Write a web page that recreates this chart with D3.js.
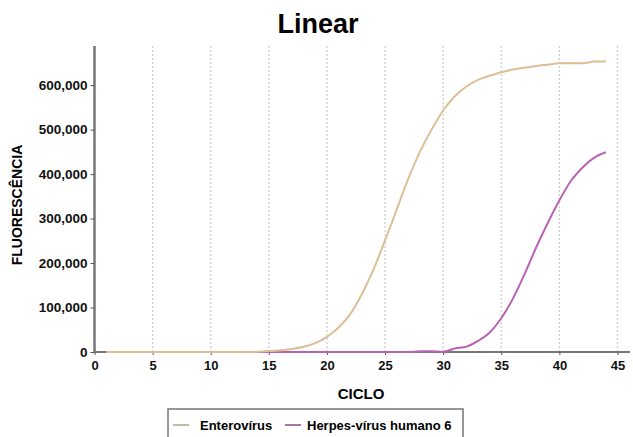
<!DOCTYPE html>
<html>
<head>
<meta charset="utf-8">
<script src="https://cdn.jsdelivr.net/npm/d3@7"></script>
<style>
  body { margin: 0; background: #fff; }
  svg text { font-family: "Liberation Sans", Arial, sans-serif; }
</style>
</head>
<body>
<div id="chart"></div>
<script>
// cycles 1..44
var cycles = d3.range(1, 45);
var enterovirus = [0, 0, 0, 0, 0, 0, 0, 0, 0, 0, 0, 0, 0, 500,
    2000, 4000, 7000, 12000, 20000, 34000, 55000, 85000, 130000, 185000,
    251000, 320000, 390000, 450000, 500000, 543000, 575000, 597000, 612000, 621000,
    629000, 635000, 639000, 643000, 646000, 649000, 649000, 649000, 653000, 653000];
var herpes = [0, 0, 0, 0, 0, 0, 0, 0, 0, 0, 0, 0, 0, 0,
    0, 0, 0, 0, 0, 0, 0, 0, 0, 0,
    0, 0, 0, 1500, 1500, 500, 8000, 12000, 25000, 44000,
    76000, 120000, 175000, 235000, 290000, 341000, 385000, 415000, 437000, 449000];
var seriesNames = ["Enterovírus", "Herpes-vírus humano 6"];
var seriesColors = ["#dcbf96", "#b863b3"];
var legendColors = ["#c7b9a3", "#a676a8"];
var xTicks = [0, 5, 10, 15, 20, 25, 30, 35, 40, 45];
var yTicks = [0, 100000, 200000, 300000, 400000, 500000, 600000];

var width = 633, height = 437;
var svg = d3.select("#chart").append("svg")
    .attr("width", width).attr("height", height);

var x = d3.scaleLinear().domain([0, 45]).range([94.5, 617.5]);
var y = d3.scaleLinear().domain([0, 688000]).range([352, 46]);

// title
svg.append("text")
    .attr("x", 318).attr("y", 33)
    .attr("text-anchor", "middle")
    .style("font-size", "27px").style("font-weight", "bold")
    .text("Linear");

// vertical dotted grid
svg.append("g").selectAll("line")
    .data(xTicks.slice(1)).enter().append("line")
    .attr("x1", d => x(d)).attr("x2", d => x(d))
    .attr("y1", 46).attr("y2", 352)
    .attr("stroke", "#cfcfcf")
    .attr("stroke-width", 1.3)
    .attr("stroke-dasharray", "2,2");

// lines
var line = d3.line()
    .x((d, i) => x(cycles[i]))
    .y(d => y(d))
    .curve(d3.curveMonotoneX);

// x axis
var xAxis = svg.append("g")
    .attr("transform", "translate(0,352)")
    .call(d3.axisBottom(x).tickValues(xTicks).tickSize(3).tickSizeOuter(0));
xAxis.select(".domain").attr("stroke", "#777").attr("stroke-width", 2)
    .attr("d", "M" + x(0) + ",0H630");
xAxis.selectAll(".tick line").attr("stroke", "#555");
xAxis.selectAll("text").attr("dy", "0.9em")
    .style("font-size", "13px").style("font-weight", "bold").attr("fill", "#111");

[herpes, enterovirus].forEach(function(data, k) {
    var idx = k === 0 ? 1 : 0;
    svg.append("path")
        .datum(data)
        .attr("fill", "none")
        .attr("stroke", seriesColors[idx])
        .attr("stroke-width", 2)
        .attr("d", line);
});

// y axis
var yAxis = svg.append("g")
    .attr("transform", "translate(94.5,0)")
    .call(d3.axisLeft(y).tickValues(yTicks).tickFormat(d3.format(",")).tickSize(4).tickSizeOuter(0));
yAxis.select(".domain").attr("stroke", "#777").attr("stroke-width", 2.5)
    .attr("d", "M0,46V352");
yAxis.selectAll(".tick line").attr("stroke", "#555");
yAxis.selectAll("text")
    .style("font-size", "13.5px").style("font-weight", "bold").attr("fill", "#111");

// axis titles
svg.append("text")
    .attr("x", 361).attr("y", 399)
    .attr("text-anchor", "middle")
    .style("font-size", "15px").style("font-weight", "bold")
    .text("CICLO");
svg.append("text")
    .attr("transform", "translate(22,205) rotate(-90)")
    .attr("text-anchor", "middle")
    .style("font-size", "14px").style("font-weight", "bold")
    .text("FLUORESCÊNCIA");

// legend
var lg = svg.append("g");
lg.append("rect")
    .attr("x", 168).attr("y", 409)
    .attr("width", 295).attr("height", 40)
    .attr("fill", "#fff").attr("stroke", "#777").attr("stroke-width", 1.5);
var items = [{x: 173, tx: 200}, {x: 285, tx: 307}];
items.forEach(function(it, i) {
    lg.append("line")
        .attr("x1", it.x).attr("x2", it.x + 16)
        .attr("y1", 425).attr("y2", 425)
        .attr("stroke", legendColors[i]).attr("stroke-width", 2);
    lg.append("text")
        .attr("x", it.tx).attr("y", 430)
        .style("font-size", "13px").style("font-weight", "bold")
        .text(seriesNames[i]);
});
</script>
</body>
</html>
